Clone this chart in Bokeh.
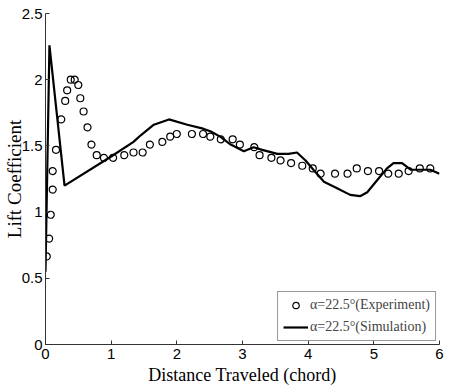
import math
from bokeh.plotting import figure
from bokeh.models import Range1d, Legend, LegendItem, FixedTicker
from bokeh.embed import file_html
from bokeh.resources import INLINE

# Experimental data (circles)
exp_x = [0.02, 0.056, 0.08, 0.11, 0.11, 0.16, 0.24, 0.30, 0.33, 0.385, 0.445, 0.50,
         0.53, 0.58, 0.64, 0.70, 0.78, 0.89, 1.03, 1.20, 1.34, 1.48, 1.59, 1.78,
         1.90, 2.00, 2.23, 2.40, 2.51, 2.67, 2.85, 2.96, 3.18, 3.26, 3.44, 3.58,
         3.74, 3.91, 4.07, 4.19, 4.41, 4.60, 4.74, 4.91, 5.08, 5.22, 5.38, 5.53,
         5.70, 5.86]
exp_y = [0.665, 0.80, 0.98, 1.17, 1.31, 1.47, 1.70, 1.84, 1.92, 2.00, 2.00, 1.96,
         1.86, 1.76, 1.64, 1.51, 1.43, 1.41, 1.41, 1.43, 1.45, 1.45, 1.51, 1.53,
         1.57, 1.59, 1.59, 1.59, 1.57, 1.55, 1.55, 1.51, 1.49, 1.43, 1.41, 1.39,
         1.37, 1.35, 1.33, 1.29, 1.29, 1.29, 1.33, 1.31, 1.31, 1.29, 1.29, 1.31,
         1.33, 1.33]

# Simulation data (line)
sim_x = [0.00, 0.06, 0.29, 1.00, 1.34, 1.45, 1.65, 1.88, 2.16, 2.40, 2.51, 2.66,
         2.82, 3.02, 3.17, 3.30, 3.53, 3.70, 3.83, 3.96, 4.08, 4.24, 4.44, 4.64,
         4.79, 4.90, 5.05, 5.20, 5.30, 5.43, 5.56, 5.70, 5.86, 6.00]
sim_y = [0.55, 2.26, 1.20, 1.42, 1.53, 1.58, 1.66, 1.70, 1.66, 1.63, 1.61, 1.57,
         1.51, 1.46, 1.49, 1.47, 1.44, 1.44, 1.45, 1.39, 1.32, 1.23, 1.18, 1.13,
         1.12, 1.15, 1.24, 1.33, 1.37, 1.37, 1.32, 1.32, 1.32, 1.29]

x_ticks = [0, 1, 2, 3, 4, 5, 6]
x_tick_labels = ["0", "1", "2", "3", "4", "5", "6"]
y_ticks = [0, 0.5, 1, 1.5, 2, 2.5]
y_tick_labels = ["0", "0.5", "1", "1.5", "2", "2.5"]

exp_label = "α=22.5°(Experiment)"
sim_label = "α=22.5°(Simulation)"

p = figure(width=449, height=387, output_backend="svg", toolbar_location=None,
           x_range=Range1d(0, 6), y_range=Range1d(0, 2.5),
           min_border_left=45, min_border_right=10, min_border_top=13,
           min_border_bottom=42)
p.outline_line_color = None
p.xgrid.visible = False
p.ygrid.visible = False
p.background_fill_color = "white"
p.border_fill_color = "white"

r_exp = p.scatter(exp_x, exp_y, marker="circle", size=7, fill_color=None,
                  line_color="black", line_width=1.2)
r_sim = p.line(sim_x, sim_y, line_color="black", line_width=2.2)

for ax, ticks, labels in ((p.xaxis[0], x_ticks, x_tick_labels), (p.yaxis[0], y_ticks, y_tick_labels)):
    ax.ticker = FixedTicker(ticks=ticks)
    ax.major_label_overrides = {t: l for t, l in zip(ticks, labels)}
    ax.major_tick_in = 4
    ax.major_tick_out = 0
    ax.minor_tick_line_color = None
    ax.axis_line_color = "#333333"
    ax.major_tick_line_color = "#333333"
    ax.major_label_text_font = "Liberation Sans"
    ax.major_label_text_font_size = "15px"
    ax.major_label_text_color = "black"

p.xaxis.major_label_standoff = 4
p.yaxis.major_label_standoff = 3

p.xaxis.axis_label = "Distance Traveled (chord)"
p.xaxis.axis_label_standoff = 3
p.xaxis.axis_label_text_font_size = "18px"
p.yaxis.axis_label = "Lift Coefficient"
p.yaxis.axis_label_standoff = -6
p.yaxis.axis_label_text_font_size = "19px"
for ax in (p.xaxis[0], p.yaxis[0]):
    ax.axis_label_text_font = "Liberation Serif"
    ax.axis_label_text_font_style = "normal"
    ax.axis_label_text_color = "black"

legend = Legend(items=[LegendItem(label=exp_label, renderers=[r_exp]),
                       LegendItem(label=sim_label, renderers=[r_sim])],
                location="bottom_right", margin=3, padding=5, spacing=6,
                glyph_width=25, glyph_height=16, label_height=16, label_standoff=2,
                label_text_font="Liberation Serif", label_text_font_size="14px",
                border_line_color="#333333", border_line_width=1,
                background_fill_color="white", background_fill_alpha=1.0)
p.add_layout(legend)

open("out.html", "w").write(file_html(p, INLINE))
